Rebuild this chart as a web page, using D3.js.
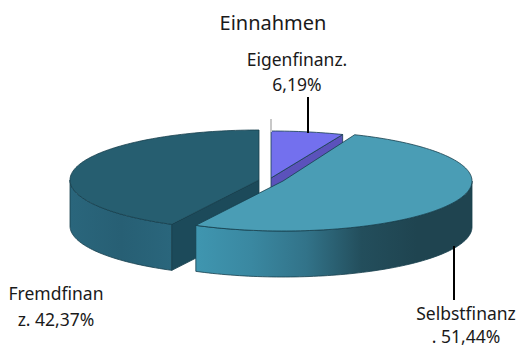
<!DOCTYPE html>
<meta charset="utf-8">
<script src="https://d3js.org/d3.v7.min.js"></script>

<style type="text/css">
body { margin: 0; background: #fff; }
text { font-family: "Noto Sans", sans-serif; fill: #1a1a1a; text-anchor: middle; }
.title { font-size: 20px; }
.label { font-size: 17.5px; }
.leader { stroke: #000; stroke-width: 2px; }
.rim { stroke: #173f4d; stroke-width: 0.8px; stroke-linejoin: round; }
</style>

<body></body>

<script>

var categories = ['Eigenfinanz.', 'Selbstfinanz', 'Fremdfinanz'];
var shares = [6.19, 51.44, 42.37];

// one entry per slice, same order as categories
var centers = [[271, 178], [283, 181], [259, 180]];
var radiusY = [47, 50, 50];
var topColors = ['#7370ee', '#4a9db5', '#265e70'];
var cutColors = ['#5b52bb', '#2c6a80', '#1c4a5a'];
var wallStops = [
  ['#5b52bb', '#5b52bb'],
  ['#3f96b0', '#3a88a1', '#327389', '#234e5c', '#1f4450', '#1f4450'],
  ['#2a667c', '#275f74', '#2a667c']
];

var radiusX = 189;
var depth = 46;

var svg = d3.select('body').append('svg')
  .attr('width', 518)
  .attr('height', 347);

var defs = svg.append('defs');

var pie = d3.pie().sort(null).startAngle(0).endAngle(2 * Math.PI);
var slices = pie(shares);

var line = d3.line();

function rimPoint(i, angle, drop) {
  return [
    centers[i][0] + radiusX * Math.sin(angle),
    centers[i][1] - radiusY[i] * Math.cos(angle) + drop
  ];
}

function sampleAngles(a0, a1) {
  var n = Math.max(2, Math.ceil((a1 - a0) * 40));
  return d3.range(n + 1).map(k => a0 + (a1 - a0) * k / n);
}

// blue first, then the dark slice, the big one lies over both
[0, 2, 1].forEach(function(i) {
  var d = slices[i];
  var g = svg.append('g').attr('class', 'slice');
  var apex = centers[i];

  // outer wall, only the part that faces the viewer
  var a0 = Math.max(d.startAngle, Math.PI / 2);
  var a1 = Math.min(d.endAngle, 3 * Math.PI / 2);
  if (a0 < a1) {
    var angles = sampleAngles(a0, a1);
    var xRange = d3.extent(angles, a => rimPoint(i, a, 0)[0]);
    var gradient = defs.append('linearGradient')
      .attr('id', 'wall' + i)
      .attr('gradientUnits', 'userSpaceOnUse')
      .attr('x1', xRange[0]).attr('x2', xRange[1])
      .attr('y1', 0).attr('y2', 0);
    // stops listed left to right
    var stops = wallStops[i];
    stops.forEach(function(color, k) {
      gradient.append('stop')
        .attr('offset', k / (stops.length - 1))
        .attr('stop-color', color);
    });
    var wall = angles.map(a => rimPoint(i, a, 0))
      .concat(angles.slice().reverse().map(a => rimPoint(i, a, depth)));
    g.append('path')
      .attr('class', 'rim')
      .attr('d', line(wall) + 'Z')
      .attr('fill', 'url(#wall' + i + ')');
  }

  // cut faces
  var cuts = [];
  if (d.startAngle > Math.PI) cuts.push(d.startAngle);
  if (d.endAngle < Math.PI) cuts.push(d.endAngle);
  cuts.forEach(function(a) {
    var p = rimPoint(i, a, 0);
    var face = [apex, p, [p[0], p[1] + depth], [apex[0], apex[1] + depth]];
    g.append('path')
      .attr('class', 'rim')
      .attr('d', line(face) + 'Z')
      .attr('fill', cutColors[i]);
  });

  // top face
  var top = [apex].concat(sampleAngles(d.startAngle, d.endAngle).map(a => rimPoint(i, a, 0)));
  g.append('path')
    .attr('class', 'rim')
    .attr('d', line(top) + 'Z')
    .attr('fill', topColors[i]);
});

// small grey mark above the blue slice
svg.append('line')
  .attr('x1', 271).attr('x2', 271)
  .attr('y1', 119).attr('y2', 132)
  .attr('stroke', '#c8c8c8')
  .attr('stroke-width', 2);

// leaders
svg.append('line').attr('class', 'leader')
  .attr('x1', 308).attr('x2', 308).attr('y1', 97).attr('y2', 133);
svg.append('line').attr('class', 'leader')
  .attr('x1', 454).attr('x2', 454).attr('y1', 246).attr('y2', 300);

// texts
svg.append('text').attr('class', 'title')
  .attr('x', 273).attr('y', 30).text('Einnahmen');

var labelLines = [
  ['Eigenfinanz.', 297, 66],
  ['6,19%', 297, 91],
  ['Fremdfinan', 56, 300],
  ['z. 42,37%', 56, 326],
  ['Selbstfinanz', 466, 320],
  ['. 51,44%', 466, 343]
];

svg.selectAll('.label')
  .data(labelLines).enter().append('text')
  .attr('class', 'label')
  .attr('x', d => d[1])
  .attr('y', d => d[2])
  .text(d => d[0]);

</script>
